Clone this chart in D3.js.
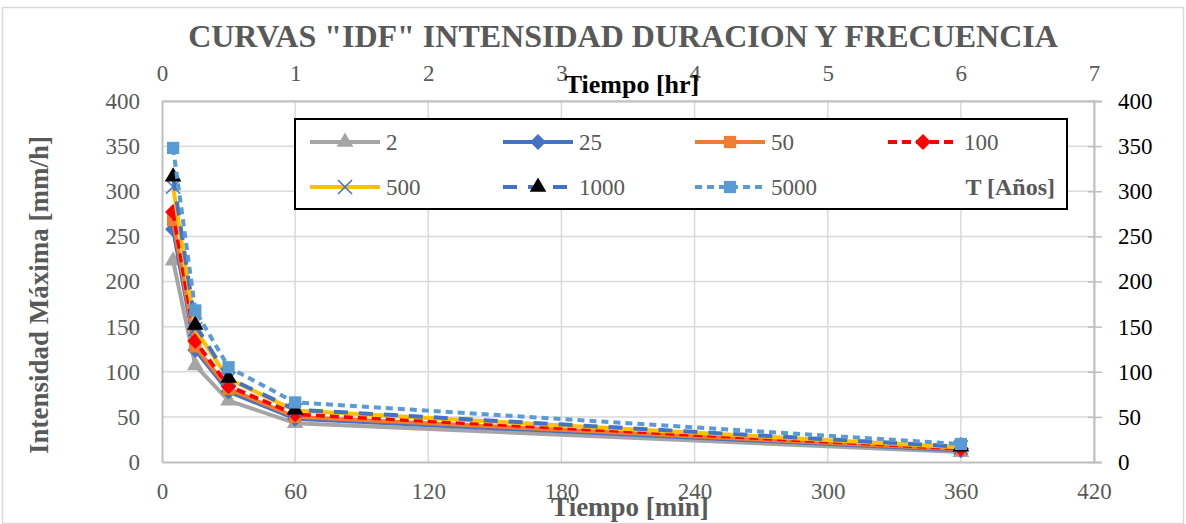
<!DOCTYPE html>
<html>
<head>
<meta charset="utf-8">
<script src="https://cdn.jsdelivr.net/npm/d3@7"></script>
<style>
  body { margin: 0; background: #fff; }
  svg text { font-family: "Liberation Serif", "Times New Roman", serif; }
</style>
</head>
<body>
<div class="canvas"></div>
<script>
// data: duracion en minutos, intensidad en mm/h por periodo de retorno
const durations = [5, 15, 30, 60, 360];
const periods = ['2', '25', '50', '100', '500', '1000', '5000'];
const t2 = [223, 107, 68, 43, 11];
const t25 = [258, 124, 78, 48, 13];
const t50 = [268, 128, 81, 50, 14];
const t100 = [277, 134, 84, 53, 15];
const t500 = [305, 147, 92, 57, 16];
const t1000 = [316, 152, 93, 58, 17];
const t5000 = [348, 168, 105, 66, 20];
const minTicks = [0, 60, 120, 180, 240, 300, 360, 420];
const hrTicks = [0, 1, 2, 3, 4, 5, 6, 7];
const yTicks = [0, 50, 100, 150, 200, 250, 300, 350, 400];

const series = [
  { name: '2', values: t2, color: '#a5a5a5', dash: null, marker: 'triangle', mcolor: '#a5a5a5' },
  { name: '25', values: t25, color: '#4472c4', dash: null, marker: 'diamond', mcolor: '#4472c4' },
  { name: '50', values: t50, color: '#ed7d31', dash: null, marker: 'square', mcolor: '#ed7d31' },
  { name: '100', values: t100, color: '#ff0000', dash: '9,5', marker: 'diamond', mcolor: '#ff0000' },
  { name: '500', values: t500, color: '#ffc000', dash: null, marker: 'x', mcolor: '#4472c4' },
  { name: '1000', values: t1000, color: '#4472c4', dash: '14,11', marker: 'triangle', mcolor: '#000000' },
  { name: '5000', values: t5000, color: '#5b9bd5', dash: '7,5', marker: 'square', mcolor: '#5b9bd5' }
];

const W = 1186, H = 524;
const margin = { top: 101, right: 92, bottom: 62, left: 162 };
const gw = W - margin.left - margin.right;
const gh = H - margin.top - margin.bottom;
const serif = '"Liberation Serif", "Times New Roman", serif';

const svg = d3.select('.canvas')
  .append('svg')
  .attr('width', W)
  .attr('height', H);

// chart border
svg.append('rect')
  .attr('x', 2.5).attr('y', 7.5)
  .attr('width', W - 5).attr('height', H - 8)
  .attr('fill', 'none')
  .attr('stroke', '#d9d9d9')
  .attr('stroke-width', 1.5);

const graph = svg.append('g')
  .attr('transform', `translate(${margin.left}, ${margin.top})`);

// scales
const x = d3.scaleLinear().domain([0, 420]).range([0, gw]);
const xHr = d3.scaleLinear().domain([0, 7]).range([0, gw]);
const y = d3.scaleLinear().domain([0, 400]).range([gh, 0]);

// grid
graph.append('g')
  .selectAll('line.h')
  .data(yTicks.slice(1))
  .enter().append('line')
  .attr('x1', 0).attr('x2', gw)
  .attr('y1', d => y(d)).attr('y2', d => y(d))
  .attr('stroke', '#d9d9d9').attr('stroke-width', 1.5);

graph.append('g')
  .selectAll('line.v')
  .data(minTicks.slice(1))
  .enter().append('line')
  .attr('x1', d => x(d)).attr('x2', d => x(d))
  .attr('y1', 0).attr('y2', gh)
  .attr('stroke', '#d9d9d9').attr('stroke-width', 1.5);

// axes
const styleAxis = (g, color) => {
  g.attr('font-family', serif);
  g.select('.domain').attr('stroke', '#bfbfbf').attr('stroke-width', 2);
  g.selectAll('.tick line').attr('stroke', '#bfbfbf').attr('stroke-width', 1.5);
  g.selectAll('.tick text')
    .attr('fill', color)
    .style('font-family', serif)
    .style('font-size', '23px');
};

const xAxisGroup = graph.append('g')
  .attr('transform', `translate(0, ${gh})`)
  .call(d3.axisBottom(x).tickValues(minTicks).tickSize(0).tickPadding(21))
  .call(g => styleAxis(g, '#595959'));

const xTopGroup = graph.append('g')
  .call(d3.axisTop(xHr).tickValues(hrTicks).tickFormat(d3.format('d')).tickSize(0).tickPadding(20))
  .call(g => styleAxis(g, '#595959'));

const yAxisGroup = graph.append('g')
  .call(d3.axisLeft(y).tickValues(yTicks).tickSize(0).tickPadding(22))
  .call(g => styleAxis(g, '#595959'));

const yRightGroup = graph.append('g')
  .attr('transform', `translate(${gw}, 0)`)
  .call(d3.axisRight(y).tickValues(yTicks).tickSize(8).tickPadding(16))
  .call(g => styleAxis(g, '#000'));
yRightGroup.selectAll('.tick line').attr('x1', -6);

// markers
const symbolFor = m => {
  if (m === 'triangle') return d3.symbol().type(d3.symbolTriangle).size(120)();
  if (m === 'diamond') return 'M0,-8L8,0L0,8L-8,0Z';
  if (m === 'square') return d3.symbol().type(d3.symbolSquare).size(150)();
  return d3.symbol().type(d3.symbolTimes).size(130)();
};

const drawMarker = (g, s, cx, cy) => {
  const p = g.append('path')
    .attr('d', symbolFor(s.marker))
    .attr('transform', `translate(${cx}, ${cy})`);
  if (s.marker === 'x') {
    p.attr('fill', 'none').attr('stroke', s.mcolor).attr('stroke-width', 1.5);
  } else {
    p.attr('fill', s.mcolor);
  }
};

const line = d3.line()
  .x((d, i) => x(durations[i]))
  .y(d => y(d));

series.forEach(s => {
  const g = graph.append('g').attr('class', 'series-' + s.name);
  g.append('path')
    .datum(s.values)
    .attr('fill', 'none')
    .attr('stroke', s.color)
    .attr('stroke-width', 4)
    .attr('stroke-dasharray', s.dash)
    .attr('stroke-linejoin', 'round')
    .attr('d', line);
  s.values.forEach((v, i) => drawMarker(g, s, x(durations[i]), y(v)));
});

// title
svg.append('text')
  .attr('x', 623).attr('y', 47)
  .attr('text-anchor', 'middle')
  .attr('fill', '#595959')
  .style('font-size', '32px')
  .style('font-weight', 'bold')
  .text('CURVAS "IDF" INTENSIDAD DURACION Y FRECUENCIA');

// axis titles
svg.append('text')
  .attr('x', 632).attr('y', 93)
  .attr('text-anchor', 'middle')
  .attr('fill', '#000')
  .style('font-size', '26px')
  .style('font-weight', 'bold')
  .text('Tiempo [hr]');

svg.append('text')
  .attr('x', 630).attr('y', 516)
  .attr('text-anchor', 'middle')
  .attr('fill', '#595959')
  .style('font-size', '27px')
  .style('font-weight', 'bold')
  .text('Tiempo [min]');

svg.append('text')
  .attr('transform', 'translate(48, 295) rotate(-90)')
  .attr('text-anchor', 'middle')
  .attr('fill', '#595959')
  .style('font-size', '27px')
  .style('font-weight', 'bold')
  .text('Intensidad Máxima [mm/h]');

// legend
const legend = svg.append('g');
legend.append('rect')
  .attr('x', 295).attr('y', 119)
  .attr('width', 772).attr('height', 90)
  .attr('fill', '#fff')
  .attr('stroke', '#000')
  .attr('stroke-width', 2);

const legCols = [310, 503, 695, 888];
const legRows = [142, 187];
series.forEach((s, i) => {
  const lx = legCols[i % 4];
  const ly = legRows[Math.floor(i / 4)];
  const g = legend.append('g');
  g.append('line')
    .attr('x1', lx).attr('x2', lx + 70)
    .attr('y1', ly).attr('y2', ly)
    .attr('stroke', s.color)
    .attr('stroke-width', 4)
    .attr('stroke-dasharray', s.dash);
  drawMarker(g, s, lx + 35, ly);
  g.append('text')
    .attr('x', lx + 76).attr('y', ly + 8)
    .attr('fill', '#595959')
    .style('font-size', '23px')
    .text(s.name);
});

legend.append('text')
  .attr('x', 1055).attr('y', 195)
  .attr('text-anchor', 'end')
  .attr('fill', '#595959')
  .style('font-size', '24px')
  .style('font-weight', 'bold')
  .text('T [Años]');
</script>
</body>
</html>
